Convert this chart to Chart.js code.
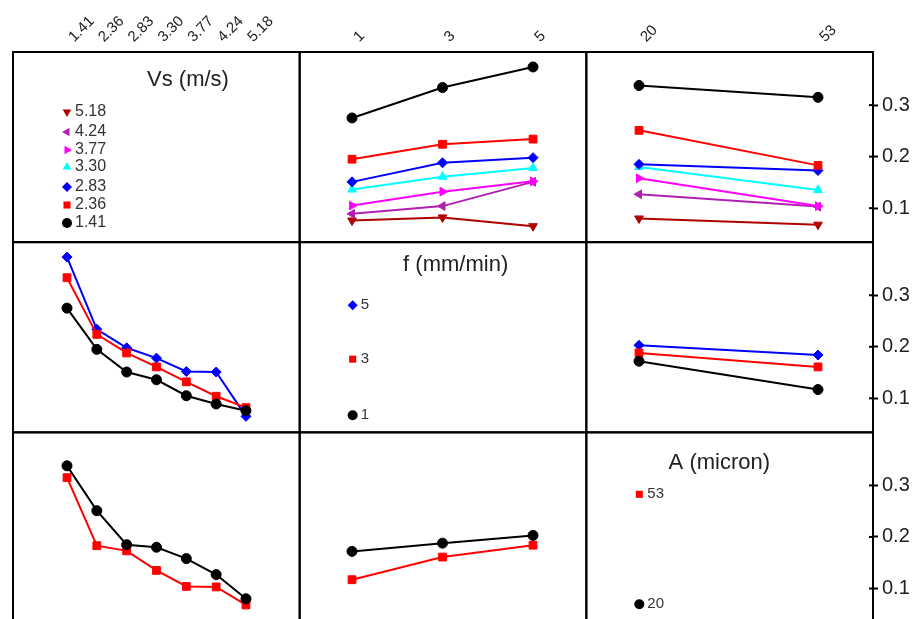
<!DOCTYPE html>
<html>
<head>
<meta charset="utf-8">
<script src="https://cdn.jsdelivr.net/npm/chart.js"></script>
<style>
  html, body { margin: 0; padding: 0; background: #fff; overflow: hidden; }
  canvas { display: block; }
</style>
</head>
<body>
<canvas id="chart" width="914" height="629"></canvas>
<script>
// factor levels
const vsLevels = ['1.41', '2.36', '2.83', '3.30', '3.77', '4.24', '5.18'];
const fLevels = [1, 3, 5];
const aLevels = [20, 53];
const yTicks = [0.1, 0.2, 0.3];

// mean response, one row per Vs level, columns f = 1, 3, 5
const meanVsF = [
  [0.275, 0.334, 0.374],
  [0.195, 0.224, 0.234],
  [0.151, 0.188, 0.198],
  [0.136, 0.161, 0.178],
  [0.105, 0.132, 0.152],
  [0.089, 0.104, 0.151],
  [0.076, 0.082, 0.065]
];
// one row per Vs level, columns A = 20, 53
const meanVsA = [
  [0.338, 0.315],
  [0.251, 0.183],
  [0.185, 0.173],
  [0.180, 0.135],
  [0.158, 0.104],
  [0.127, 0.103],
  [0.080, 0.068]
];
// one row per f level, columns A = 20, 53
const meanFA = [
  [0.172, 0.117],
  [0.188, 0.161],
  [0.203, 0.184]
];

const vsColors = ['#000000', '#ff0000', '#0000ff', '#00ffff', '#ff00ff', '#b020b0', '#b00000'];
const vsShapes = ['circle', 'rect', 'rectRot', 'triangle', 'triangle', 'triangle', 'triangle'];
const vsRotation = [0, 0, 0, 0, 90, 270, 180];
const fColors = ['#000000', '#ff0000', '#0000ff'];
const fShapes = ['circle', 'rect', 'rectRot'];
const aColors = ['#000000', '#ff0000'];
const aShapes = ['circle', 'rect'];

const vsIndex = vsLevels.map((_, i) => i);

function series(xId, yId, xs, ys, color, shape, rot) {
  return {
    xAxisID: xId,
    yAxisID: yId,
    data: xs.map((x, i) => ({ x: x, y: ys[i] })),
    borderColor: color,
    backgroundColor: color,
    borderWidth: 2,
    pointStyle: shape,
    pointRotation: rot || 0,
    pointRadius: shape === 'rect' ? 5.5 : 5,
    pointBorderWidth: 1
  };
}

const datasets = [];
// row 1: Vs lines
vsLevels.forEach((_, i) => {
  datasets.push(series('xF', 'yR1', fLevels, meanVsF[i], vsColors[i], vsShapes[i], vsRotation[i]));
  datasets.push(series('xA', 'yR1', aLevels, meanVsA[i], vsColors[i], vsShapes[i], vsRotation[i]));
});
// row 2: f lines
fLevels.forEach((_, j) => {
  datasets.push(series('xVs', 'yR2', vsIndex, meanVsF.map(r => r[j]), fColors[j], fShapes[j]));
  datasets.push(series('xA', 'yR2', aLevels, meanFA[j], fColors[j], fShapes[j]));
});
// row 3: A lines
aLevels.forEach((_, k) => {
  datasets.push(series('xVs', 'yR3', vsIndex, meanVsA.map(r => r[k]), aColors[k], aShapes[k]));
  datasets.push(series('xF', 'yR3', fLevels, meanFA.map(r => r[k]), aColors[k], aShapes[k]));
});

function topAxis(min, max, weight, values, label) {
  return {
    type: 'linear', position: 'top', stack: 'top', stackWeight: 1, weight: weight,
    min: min, max: max,
    grid: { display: false, drawTicks: false },
    border: { display: false },
    afterBuildTicks: s => { s.ticks = values.map(v => ({ value: v })); },
    afterFit: s => { s.height = 52; s.paddingLeft = 0; s.paddingRight = 0; },
    ticks: {
      minRotation: 45, maxRotation: 45, padding: 6, labelOffset: 17, autoSkip: false,
      font: { size: 15 }, color: '#222', callback: label
    }
  };
}

function rightAxis(weight) {
  return {
    type: 'linear', position: 'right', stack: 'right', stackWeight: 1, weight: weight,
    min: 0.034, max: 0.403,
    grid: { drawOnChartArea: false, drawTicks: true, tickLength: 5, tickWidth: 2, color: '#000' },
    border: { display: true, width: 2, color: '#000' },
    afterBuildTicks: s => { s.ticks = yTicks.map(v => ({ value: v })); },
    afterFit: s => { s.width = 41; s.paddingTop = 0; s.paddingBottom = 0; },
    ticks: { padding: 4, font: { size: 20 }, color: '#222', callback: v => v.toFixed(1) }
  };
}

function marker(ctx, shape, rot, r, x, y) {
  ctx.beginPath();
  if (shape === 'circle') {
    ctx.arc(x, y, r, 0, Math.PI * 2);
  } else if (shape === 'rect') {
    const h = r * Math.SQRT1_2;
    ctx.rect(x - h, y - h, 2 * h, 2 * h);
  } else if (shape === 'rectRot') {
    ctx.moveTo(x, y - r); ctx.lineTo(x + r, y); ctx.lineTo(x, y + r); ctx.lineTo(x - r, y);
    ctx.closePath();
  } else {
    let a = (rot || 0) * Math.PI / 180;
    ctx.moveTo(x + Math.sin(a) * r, y - Math.cos(a) * r);
    a += 2 * Math.PI / 3;
    ctx.lineTo(x + Math.sin(a) * r, y - Math.cos(a) * r);
    a += 2 * Math.PI / 3;
    ctx.lineTo(x + Math.sin(a) * r, y - Math.cos(a) * r);
    ctx.closePath();
  }
  ctx.fill();
}

// boxes around the 3x3 panels, plus the inner half of the right-hand tick marks
const panelFrames = {
  id: 'panelFrames',
  afterDatasetsDraw(chart) {
    const ctx = chart.ctx;
    const cols = ['xVs', 'xF', 'xA'].map(id => chart.scales[id]);
    const rows = ['yR1', 'yR2', 'yR3'].map(id => chart.scales[id]);
    ctx.save();
    ctx.strokeStyle = '#000';
    ctx.lineWidth = 2;
    rows.forEach(r => cols.forEach(c => ctx.strokeRect(c.left, r.top, c.right - c.left, r.bottom - r.top)));
    rows.forEach(r => {
      r.ticks.forEach(t => {
        const y = r.getPixelForValue(t.value);
        ctx.beginPath();
        ctx.moveTo(r.left - 4, y);
        ctx.lineTo(r.left, y);
        ctx.stroke();
      });
    });
    ctx.restore();
  }
};

// factor names and level keys on the diagonal panels
const panelLegends = {
  id: 'panelLegends',
  afterDatasetsDraw(chart) {
    const ctx = chart.ctx;
    const sc = chart.scales;
    const font = size => size + 'px "Liberation Sans", Arial, sans-serif';

    function title(text, xs, ys, dx, dy) {
      ctx.font = font(22);
      ctx.fillStyle = '#222';
      ctx.textAlign = 'center';
      ctx.textBaseline = 'middle';
      ctx.fillText(text, xs.left + dx, ys.top + dy);
    }
    function key(labels, colors, shapes, rots, xs, ys, dx, dys, size, r) {
      labels.forEach((lab, i) => {
        const x = xs.left + dx, y = ys.top + dys[i];
        ctx.fillStyle = colors[i];
        marker(ctx, shapes[i], rots ? rots[i] : 0, r, x, y);
        ctx.font = font(size);
        ctx.fillStyle = '#333';
        ctx.textAlign = 'left';
        ctx.textBaseline = 'middle';
        ctx.fillText(lab, x + 8, y);
      });
    }

    ctx.save();
    title('Vs (m/s)', sc.xVs, sc.yR1, 175, 28);
    const order = vsLevels.map((_, i) => vsLevels.length - 1 - i);
    key(order.map(i => vsLevels[i]), order.map(i => vsColors[i]), order.map(i => vsShapes[i]),
        order.map(i => vsRotation[i]), sc.xVs, sc.yR1, 54, [60, 80, 98, 115, 135, 153, 171], 16, 5);

    title('f (mm/min)', sc.xF, sc.yR2, 156, 23);
    key(['5', '3', '1'], [fColors[2], fColors[1], fColors[0]], [fShapes[2], fShapes[1], fShapes[0]],
        null, sc.xF, sc.yR2, 53, [63, 117, 173], 15, 5);

    title('A (micron)', sc.xA, sc.yR3, 133, 31);
    key(['53', '20'], [aColors[1], aColors[0]], [aShapes[1], aShapes[0]],
        null, sc.xA, sc.yR3, 53, [62, 172], 15, 5);
    ctx.restore();
  }
};

Chart.defaults.font.family = '"Liberation Sans", Arial, sans-serif';

new Chart(document.getElementById('chart'), {
  type: 'line',
  data: { datasets: datasets },
  options: {
    responsive: false,
    animation: false,
    devicePixelRatio: 1,
    layout: { padding: { left: 13, bottom: 2, top: 0, right: 0 } },
    plugins: { legend: { display: false }, tooltip: { enabled: false } },
    scales: {
      xVs: topAxis(-1.81, 7.8, 3, vsIndex, v => vsLevels[v]),
      xF: topAxis(-0.157, 6.178, 2, fLevels, v => String(v)),
      xA: topAxis(10.29, 63.14, 1, aLevels, v => String(v)),
      yR1: rightAxis(1),
      yR2: rightAxis(2),
      yR3: rightAxis(3)
    }
  },
  plugins: [panelFrames, panelLegends]
});
</script>
</body>
</html>
